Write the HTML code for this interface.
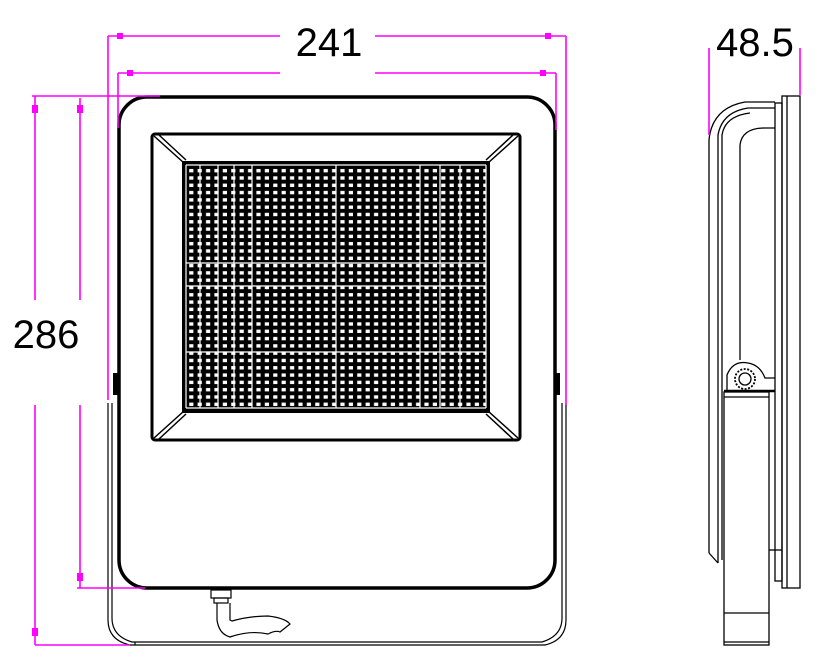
<!DOCTYPE html>
<html><head><meta charset="utf-8"><style>
html,body{margin:0;padding:0;background:#fff;}
svg{display:block;}
text{font-family:"Liberation Sans",sans-serif;fill:#000;}
</style></head><body>
<svg width="820" height="662" viewBox="0 0 820 662" xmlns="http://www.w3.org/2000/svg">
<defs>
<pattern id="led" x="187" y="167" width="8.4" height="7.3" patternUnits="userSpaceOnUse">
<rect width="8.4" height="7.3" fill="#000"/>
<rect x="2.2" y="2" width="4.2" height="3.4" fill="#fff"/>
</pattern>
</defs>
<!-- bracket front -->
<g fill="none" stroke="#000" stroke-width="1.2">
<path d="M108 403 L108 620 Q108 640 130 645 L545 645 Q566 640 566 620 L566 403"/>
<path d="M112 403 L112 618 Q112 636 132 642 L542 642 Q562 636 562 618 L562 403"/>
<line x1="135" y1="645" x2="135" y2="642"/>
</g>
<rect x="113" y="373" width="5" height="22" fill="#000"/>
<rect x="555" y="373" width="5" height="22" fill="#000"/>
<!-- outer housing -->
<rect x="119" y="97" width="436" height="491" rx="28" fill="#fff" stroke="#000" stroke-width="3.5"/>
<!-- inner frame -->
<rect x="152" y="134" width="368" height="306" rx="3" fill="#fff" stroke="#000" stroke-width="3"/>
<g stroke="#000" stroke-width="1.5">
<line x1="154" y1="136" x2="184" y2="163"/><line x1="159" y1="135" x2="186" y2="160"/>
<line x1="518" y1="136" x2="488" y2="163"/><line x1="513" y1="135" x2="486" y2="160"/>
<line x1="154" y1="438" x2="184" y2="411"/><line x1="159" y1="439" x2="186" y2="414"/>
<line x1="518" y1="438" x2="488" y2="411"/><line x1="513" y1="439" x2="486" y2="414"/>
</g>
<!-- LED panel -->
<rect x="182" y="161" width="308" height="252" fill="#000"/>
<rect x="186" y="165" width="300" height="244" fill="url(#led)"/>
<g stroke="#fff" stroke-width="1.2">
<line x1="186" y1="165" x2="486" y2="165"/>
<line x1="186" y1="165" x2="186" y2="408"/>
<line x1="486" y1="165" x2="486" y2="408"/>
<line x1="186" y1="408" x2="486" y2="408"/>
<line x1="186" y1="263" x2="486" y2="263"/>
<line x1="186" y1="286" x2="486" y2="286"/>
<line x1="186" y1="352" x2="486" y2="352"/>
<line x1="252" y1="165" x2="252" y2="408"/>
<line x1="336" y1="165" x2="336" y2="408"/>
<line x1="420" y1="165" x2="420" y2="408"/>
<line x1="200" y1="165" x2="200" y2="408"/>
<line x1="218" y1="165" x2="218" y2="408"/>
<line x1="234" y1="165" x2="234" y2="408"/>
<line x1="440" y1="165" x2="440" y2="408"/>
<line x1="460" y1="165" x2="460" y2="408"/>
</g>
<!-- cable -->
<g fill="none" stroke="#000" stroke-width="1.2">
<rect x="211" y="590" width="20" height="8"/>
<rect x="214" y="598" width="14" height="5"/>
<path d="M217 603 L217 620 Q219 634 230 637 Q250 630 268 634 Q276 630 280 632 L290 624 Q285 618 268 616 Q250 616 232 621 L230 620 L230 603"/>
</g>
<!-- side view -->
<g fill="none" stroke="#000" stroke-width="1.3">
<rect x="782" y="96" width="18" height="492"/>
<line x1="787" y1="96" x2="787" y2="588"/>
<rect x="775" y="103" width="7" height="478"/>
<path d="M709 553 L709 140 Q712 108 745 102 L775 102"/>
<path d="M718 563 L718 135 Q722 112 748 108 L775 108"/>
<path d="M722 560 L722 135 Q725 116 750 113"/>
<path d="M740 360 L740 145 Q742 128 765 128 L775 128"/>
<line x1="709" y1="553" x2="718" y2="563"/>
<rect x="724" y="392" width="45" height="253"/>
<line x1="724" y1="397" x2="769" y2="397"/>
<line x1="724" y1="613" x2="769" y2="613"/>
<line x1="724" y1="642" x2="769" y2="642"/>
<path d="M727 392 L727 375 Q733 360 748 363 Q760 365 765 378 L775 378"/>
<circle cx="745" cy="379" r="10" stroke-dasharray="2 1.5" stroke-width="1.8"/>
<circle cx="745" cy="379" r="6"/>
<line x1="769" y1="550" x2="782" y2="550"/>
</g>
<line x1="724" y1="391" x2="775" y2="391" stroke="#000" stroke-width="2.5"/>
<!-- dimensions -->
<g stroke="#ff00ff" stroke-width="1.6" fill="none">
<line x1="108" y1="36" x2="280" y2="36"/><line x1="375" y1="36" x2="566" y2="36"/>
<line x1="108" y1="36" x2="108" y2="400"/><line x1="566" y1="36" x2="566" y2="405"/>
<line x1="118" y1="73" x2="280" y2="73"/><line x1="375" y1="73" x2="556" y2="73"/>
<line x1="118" y1="73" x2="118" y2="128"/><line x1="556" y1="73" x2="556" y2="130"/>
<line x1="32" y1="96" x2="160" y2="96"/>
<line x1="35" y1="96" x2="35" y2="300"/><line x1="35" y1="405" x2="35" y2="645"/>
<line x1="35" y1="645" x2="130" y2="645"/>
<line x1="80" y1="98" x2="80" y2="300"/><line x1="80" y1="405" x2="80" y2="588"/>
<line x1="77" y1="588" x2="145" y2="588"/>
<line x1="709" y1="48" x2="709" y2="135"/><line x1="800" y1="48" x2="800" y2="95"/>
</g>
<g fill="#ff00ff">
<rect x="117" y="33" width="6" height="6"/><rect x="545" y="33" width="6" height="6"/>
<rect x="127" y="70" width="6" height="6"/><rect x="540" y="70" width="6" height="6"/>
<rect x="32" y="628" width="6" height="8"/><rect x="77" y="573" width="6" height="8"/>
<rect x="32" y="105" width="6" height="8"/><rect x="77" y="105" width="6" height="8"/>
</g>
<text x="329" y="56" font-size="40" text-anchor="middle">241</text>
<text x="46" y="348" font-size="40" text-anchor="middle">286</text>
<text x="755" y="56" font-size="40" text-anchor="middle">48.5</text>
</svg>
</body></html>
